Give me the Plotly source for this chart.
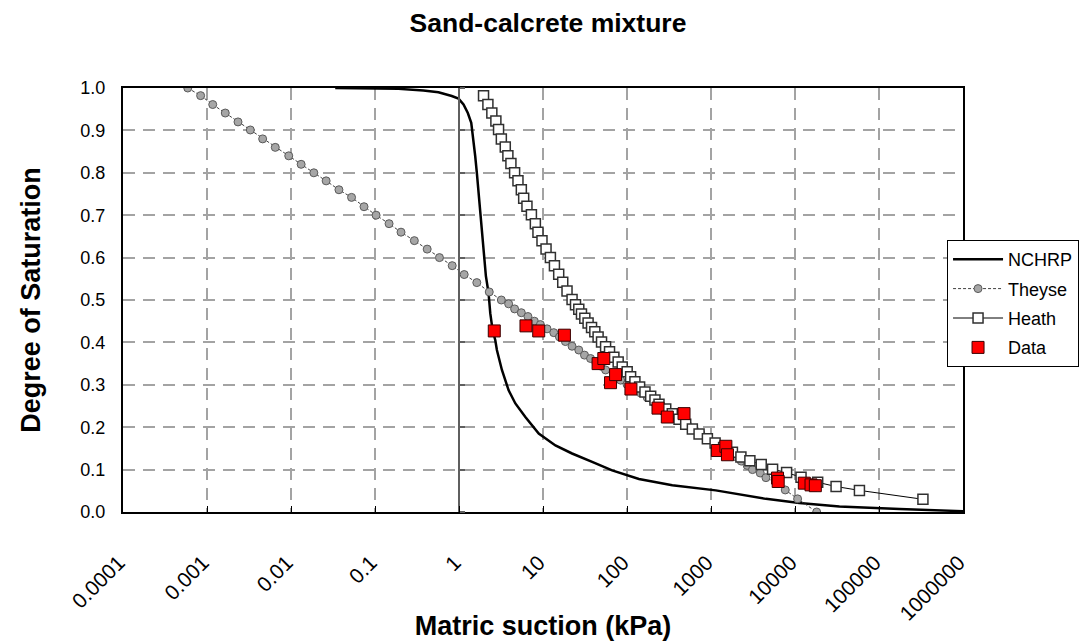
import plotly.graph_objects as go

# Soil-water characteristic curves for a sand-calcrete mixture
# Matric suction in kPa, degree of saturation as a fraction

nchrp_suction = [0.0336, 0.19, 0.377, 0.569, 0.82, 0.986, 1.132, 1.274, 1.399, 1.489, 1.560,
                 1.631, 1.709, 1.790, 1.871, 1.959, 2.089, 2.249, 2.356, 2.512, 2.704, 2.825,
                 2.958, 3.243, 3.899, 4.688, 6.166, 8.892, 14.06, 22.18, 38.46, 66.53, 138.7,
                 345.9, 1140, 4508, 11250, 33800, 175800, 1000000]
nchrp_sat = [1.000, 0.998, 0.994, 0.990, 0.981, 0.975, 0.961, 0.941, 0.918, 0.878, 0.839,
             0.800, 0.752, 0.705, 0.658, 0.615, 0.557, 0.516, 0.469, 0.429, 0.405, 0.382,
             0.366, 0.335, 0.287, 0.256, 0.224, 0.185, 0.157, 0.138, 0.118, 0.098, 0.078,
             0.063, 0.051, 0.031, 0.021, 0.013, 0.007, 0.002]

theyse_suction = [0.00059, 0.00084, 0.00117, 0.00165, 0.00234, 0.00328, 0.0046, 0.0065, 0.0094,
                  0.0132, 0.0187, 0.0262, 0.0372, 0.0526, 0.074, 0.103, 0.147, 0.204, 0.294,
                  0.418, 0.585, 0.830, 1.153, 1.629, 2.291, 3.192, 3.899, 4.592, 5.521, 6.622,
                  7.889, 9.311, 11.17, 13.43, 15.70, 18.49, 22.18, 26.67, 31.19, 36.81, 42.66,
                  48.98, 55.59, 69.82, 83.95, 100.0, 120.2, 144.5, 173.8, 208.9, 251.2, 302.0,
                  363.0, 436.5, 524.8, 631.0, 758.6, 912.0, 1096, 1318, 1585, 1905, 2291, 2692,
                  3119, 3855, 4508, 6194, 7656, 10740, 18110]
theyse_sat = [1.000, 0.982, 0.961, 0.941, 0.920, 0.901, 0.880, 0.860, 0.840, 0.820, 0.800,
              0.781, 0.760, 0.742, 0.720, 0.700, 0.680, 0.660, 0.640, 0.620, 0.600, 0.581,
              0.560, 0.541, 0.519, 0.500, 0.491, 0.479, 0.470, 0.461, 0.450, 0.442, 0.432,
              0.423, 0.413, 0.402, 0.391, 0.382, 0.370, 0.362, 0.352, 0.344, 0.335, 0.320,
              0.311, 0.301, 0.291, 0.281, 0.270, 0.259, 0.249, 0.238, 0.228, 0.217, 0.206,
              0.196, 0.185, 0.174, 0.164, 0.153, 0.142, 0.131, 0.120, 0.110, 0.100, 0.092,
              0.081, 0.068, 0.052, 0.031, 0.000]

heath_suction = [1.959, 2.208, 2.460, 2.748, 2.958, 3.192, 3.556, 3.819, 4.150, 4.592, 5.035,
                 5.521, 5.888, 6.442, 7.278, 8.110, 8.710, 9.727, 10.87, 12.25, 13.68, 15.38,
                 17.18, 19.32, 22.18, 24.38, 26.67, 28.71, 31.48, 34.43, 37.84, 41.40, 45.29,
                 49.77, 55.59, 61.94, 69.82, 78.52, 87.70, 100.5, 110.4, 124.2, 141.3, 163.7,
                 191.4, 215.3, 240.4, 289.1, 345.9, 415.9, 500.0, 599.8, 721.1, 905.7, 1119,
                 1413, 1799, 2270, 2904, 3963, 5408, 7943, 11800, 18620, 30830, 58480, 333400]
heath_sat = [0.982, 0.961, 0.941, 0.922, 0.902, 0.880, 0.861, 0.840, 0.822, 0.800, 0.781,
             0.760, 0.740, 0.721, 0.701, 0.680, 0.660, 0.640, 0.620, 0.600, 0.581, 0.561,
             0.542, 0.521, 0.501, 0.489, 0.478, 0.467, 0.457, 0.446, 0.435, 0.425, 0.413,
             0.401, 0.390, 0.378, 0.365, 0.354, 0.342, 0.331, 0.319, 0.307, 0.295, 0.283,
             0.273, 0.264, 0.254, 0.243, 0.232, 0.219, 0.207, 0.196, 0.184, 0.173, 0.163,
             0.152, 0.141, 0.130, 0.121, 0.112, 0.101, 0.093, 0.082, 0.070, 0.060, 0.051,
             0.030]

data_suction = [2.63, 6.27, 8.89, 17.99, 45.29, 52.97, 63.68, 73.11, 111.4, 233.9, 302.0,
                477.5, 1191, 1503, 1570, 6194, 6310, 12910, 15520, 17460]
data_sat = [0.427, 0.439, 0.427, 0.417, 0.350, 0.362, 0.305, 0.324, 0.290, 0.245, 0.224,
            0.232, 0.145, 0.155, 0.135, 0.080, 0.072, 0.068, 0.064, 0.062]

x_tick_vals = [1e-4, 1e-3, 1e-2, 1e-1, 1, 10, 100, 1000, 10000, 100000, 1000000]
x_tick_text = ["0.0001", "0.001", "0.01", "0.1", "1", "10", "100", "1000", "10000",
               "100000", "1000000"]
y_tick_vals = [round(0.1 * i, 1) for i in range(11)]

FONT = "Liberation Sans, Arial, sans-serif"
GRID = "#a3a3a3"

fig = go.Figure()

fig.add_trace(go.Scatter(
    x=nchrp_suction, y=nchrp_sat, name="NCHRP", mode="lines",
    line=dict(color="black", width=2.5), legendgroup="a"))

fig.add_trace(go.Scatter(
    x=theyse_suction, y=theyse_sat, name="Theyse", mode="lines+markers",
    line=dict(color="#404040", width=1, dash="3px,2px"),
    marker=dict(symbol="circle", size=8, color="#a6a6a6",
                line=dict(color="#5a5a5a", width=1)),
    legendgroup="b"))

fig.add_trace(go.Scatter(
    x=heath_suction, y=heath_sat, name="Heath", mode="lines+markers",
    line=dict(color="black", width=1),
    marker=dict(symbol="square", size=10, color="white",
                line=dict(color="#303030", width=1.5)),
    legendgroup="c"))

fig.add_trace(go.Scatter(
    x=data_suction, y=data_sat, name="Data", mode="markers",
    marker=dict(symbol="square", size=12, color="#ff0000",
                line=dict(color="#3a0000", width=1)),
    legendgroup="d"))

# vertical axis crossing at 1 kPa
fig.add_trace(go.Scatter(
    x=[1, 1], y=[0, 1], mode="lines", line=dict(color="#5f5f5f", width=2),
    showlegend=False, hoverinfo="skip", yaxis="y2"))

fig.update_layout(
    width=1083, height=641,
    paper_bgcolor="white", plot_bgcolor="white",
    margin=dict(l=123, r=120, t=88, b=129, autoexpand=False),
    font=dict(family=FONT, color="black", size=17),
    title=dict(text="<b>Sand-calcrete mixture</b>", x=0.506, xanchor="center",
               y=0.965, yanchor="middle", font=dict(size=26.5, family=FONT)),
    xaxis=dict(
        type="log", range=[-4, 6], tickvals=x_tick_vals,
        ticktext=[t + "\u00a0" for t in x_tick_text],
        tickangle=-45, tickfont=dict(size=21), ticklabelstandoff=24,
        ticks="inside", ticklen=6, tickcolor="black", tickwidth=1,
        showgrid=True, gridcolor=GRID, gridwidth=1.5, griddash="12px,8px",
        showline=True, linecolor="black", linewidth=2, mirror=True,
        zeroline=False,
        title=dict(text="<b>Matric suction (kPa)</b>", font=dict(size=27), standoff=6),
    ),
    yaxis=dict(
        range=[0, 1], tickvals=y_tick_vals, tickformat=".1f",
        tickfont=dict(size=18), ticks="", ticklabelstandoff=12,
        showgrid=True, gridcolor=GRID, gridwidth=1.5, griddash="12px,8px",
        showline=True, linecolor="black", linewidth=2, mirror=True,
        zeroline=False,
        title=dict(text="<b>Degree of Saturation</b>", font=dict(size=27), standoff=32),
    ),
    yaxis2=dict(
        overlaying="y", anchor="free", position=0.4, side="right",
        range=[0, 1], tickvals=y_tick_vals, showticklabels=False,
        ticks="outside", ticklen=5, tickcolor="#5f5f5f", tickwidth=1.5,
        showgrid=False, showline=False, zeroline=False,
    ),
    legend=dict(
        x=0.981, xanchor="left", y=0.6415, yanchor="top",
        bgcolor="white", bordercolor="black", borderwidth=1,
        font=dict(size=18, family=FONT), itemwidth=50, tracegroupgap=3,
        traceorder="grouped",
    ),
    showlegend=True,
)

fig.write_html("out.html")
